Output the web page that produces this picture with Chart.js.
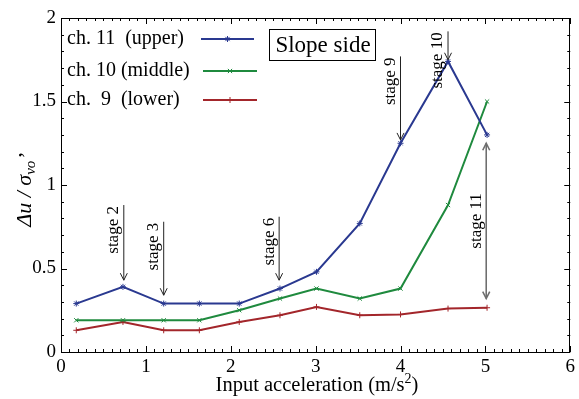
<!DOCTYPE html>
<html>
<head>
<meta charset="utf-8">
<script src="https://cdn.jsdelivr.net/npm/chart.js@4/dist/chart.umd.min.js"></script>
<style>
html,body{margin:0;padding:0;background:#fff;}
#wrap{width:579px;height:399px;}
</style>
</head>
<body>
<div id="wrap"><canvas id="c" width="579" height="399"></canvas></div>
<script>
// ---- data ----
const xUpper  = [0.18, 0.73, 1.21, 1.63, 2.1, 2.58, 3.01, 3.52, 4.0, 4.56, 5.02];
const chUpper = [0.29, 0.39, 0.29, 0.29, 0.29, 0.38, 0.48, 0.77, 1.25, 1.74, 1.30];
const xMiddle = [0.18, 0.73, 1.21, 1.63, 2.1, 2.58, 3.01, 3.52, 4.0, 4.56, 5.02];
const chMiddle= [0.19, 0.19, 0.19, 0.19, 0.25, 0.32, 0.38, 0.32, 0.38, 0.88, 1.50];
const xLower  = [0.18, 0.73, 1.21, 1.63, 2.1, 2.58, 3.01, 3.52, 4.0, 4.56, 5.02];
const chLower = [0.13, 0.18, 0.13, 0.13, 0.18, 0.22, 0.27, 0.22, 0.225, 0.26, 0.265];
const seriesNames = ["ch. 11  (upper)", "ch. 10 (middle)", "ch.  9  (lower)"];
const xTicks = [0, 1, 2, 3, 4, 5, 6];
const yTicks = [0, 0.5, 1, 1.5, 2];
// stage annotations: label, x, arrow from y, arrow to y
const stageLabels = ["stage 2", "stage 3", "stage 6", "stage 9", "stage 10", "stage 11"];
const stageX      = [0.74, 1.21, 2.57, 4.0, 4.56, 5.01];
const stageFrom   = [0.88, 0.78, 0.81, 1.77, 1.92, 1.25];
const stageTo     = [0.43, 0.34, 0.43, 1.27, 1.75, 0.32];

const BLUE = '#2a3990', GREEN = '#1f8a3e', RED = '#a3262b';
const SERIF = '"Liberation Serif", "DejaVu Serif", serif';

function pts(xs, ys){ return xs.map((x,i)=>({x:x, y:ys[i]})); }

function arrowHead(ctx, x, y, dir){ // dir: 1 pointing down, -1 pointing up
  ctx.beginPath();
  ctx.moveTo(x-3.5, y-7*dir);
  ctx.lineTo(x, y);
  ctx.lineTo(x+3.5, y-7*dir);
  ctx.stroke();
}

const deco = {
  id: 'deco',
  afterDatasetsDraw(chart){
    const ctx = chart.ctx, a = chart.chartArea;
    const xs = chart.scales.x, ys = chart.scales.y;
    ctx.save();
    // frame
    ctx.strokeStyle = '#000'; ctx.lineWidth = 1;
    ctx.strokeRect(Math.round(a.left)+0.5, Math.round(a.top)+0.5, Math.round(a.right-a.left)-1, Math.round(a.bottom-a.top));
    // ticks
    ctx.beginPath();
    for (let i=0;i<=60;i++){
      const v = i/10, px = Math.round(xs.getPixelForValue(v))+0.5;
      const L = (i%10===0)?6:3;
      ctx.moveTo(px, a.bottom); ctx.lineTo(px, a.bottom-L);
      ctx.moveTo(px, a.top); ctx.lineTo(px, a.top+L);
    }
    for (let i=0;i<=20;i++){
      const v = i/10, py = Math.round(ys.getPixelForValue(v))+0.5;
      const L = (i%5===0)?6:3;
      ctx.moveTo(a.left, py); ctx.lineTo(a.left+L, py);
      ctx.moveTo(a.right, py); ctx.lineTo(a.right-L, py);
    }
    ctx.stroke();

    // stage annotations
    ctx.font = '17px ' + SERIF;
    ctx.fillStyle = '#000';
    stageLabels.forEach((lab,i)=>{
      const px = xs.getPixelForValue(stageX[i]);
      const y1 = ys.getPixelForValue(stageFrom[i]);
      const y2 = ys.getPixelForValue(stageTo[i]);
      const dbl = (i === stageLabels.length-1);
      ctx.strokeStyle = dbl ? '#6e6e6e' : '#222';
      ctx.lineWidth = dbl ? 1.6 : 1;
      ctx.beginPath(); ctx.moveTo(px, y1); ctx.lineTo(px, y2); ctx.stroke();
      arrowHead(ctx, px, y2, 1);
      if (dbl) arrowHead(ctx, px, y1, -1);
      // text
      ctx.save();
      ctx.textBaseline = 'middle';
      if (dbl){
        ctx.translate(px-10, (y1+y2)/2);
        ctx.rotate(-Math.PI/2);
        ctx.textAlign = 'center';
      } else {
        ctx.translate(px-10, y1+1);
        ctx.rotate(-Math.PI/2);
        ctx.textAlign = 'right';
      }
      ctx.fillText(lab, 0, 0);
      ctx.restore();
    });

    // legend
    const cols = [BLUE, GREEN, RED];
    const styles = ['star','crossRot','cross'];
    const rowsY = [39, 71, 100];
    ctx.font = '20px ' + SERIF;
    ctx.textAlign = 'left'; ctx.textBaseline = 'middle';
    seriesNames.forEach((n,i)=>{
      ctx.fillStyle = '#000';
      ctx.fillText(n, 67, rowsY[i]);
      const x0 = i===0 ? 201 : 203, x1 = i===0 ? 254 : 257;
      ctx.strokeStyle = cols[i]; ctx.lineWidth = 2;
      ctx.beginPath(); ctx.moveTo(x0, rowsY[i]); ctx.lineTo(x1, rowsY[i]); ctx.stroke();
      ctx.lineWidth = 1;
      Chart.helpers.drawPoint(ctx, {pointStyle: styles[i], radius: 3, borderWidth: 1}, (x0+x1)/2, rowsY[i]);
    });

    // Slope side box
    ctx.strokeStyle = '#000'; ctx.lineWidth = 1;
    ctx.strokeRect(269.5, 29.5, 106, 31);
    ctx.fillStyle = '#000';
    ctx.font = '23px ' + SERIF;
    ctx.textAlign = 'center';
    ctx.fillText('Slope side', 323, 46);

    // x title
    ctx.textAlign = 'left'; ctx.textBaseline = 'alphabetic';
    const t1 = 'Input acceleration (m/s', t2 = '2', t3 = ')';
    ctx.font = '20.5px ' + SERIF; const w1 = ctx.measureText(t1).width;
    ctx.font = '14px ' + SERIF; const w2 = ctx.measureText(t2).width;
    ctx.font = '20.5px ' + SERIF; const w3 = ctx.measureText(t3).width;
    let sx = 317 - (w1+w2+w3)/2;
    const by = 391;
    ctx.fillText(t1, sx, by); sx += w1;
    ctx.font = '14px ' + SERIF; ctx.fillText(t2, sx, by-8); sx += w2;
    ctx.font = '20.5px ' + SERIF; ctx.fillText(t3, sx, by);

    // y title (rotated)
    ctx.save();
    ctx.translate(31, 190);
    ctx.rotate(-Math.PI/2);
    const parts = [
      {t:'\u0394u / \u03C3', f:'italic 22px '+SERIF, dy:0},
      {t:'vo', f:'italic 15px '+SERIF, dy:4},
      {t:'\u2019', f:'22px '+SERIF, dy:2}
    ];
    let tw = 0;
    parts.forEach(p=>{ ctx.font=p.f; p.w = ctx.measureText(p.t).width; tw += p.w; });
    let cx = -tw/2;
    parts.forEach((p,k)=>{ ctx.font=p.f; ctx.fillText(p.t, cx + (k===2?2:0), p.dy); cx += p.w; });
    ctx.restore();

    ctx.restore();
  }
};

new Chart(document.getElementById('c'), {
  type: 'line',
  data: {
    datasets: [
      {label: seriesNames[0], data: pts(xUpper, chUpper), borderColor: BLUE, backgroundColor: BLUE, pointStyle: 'star', pointRadius: 3, pointBorderWidth: 1, borderWidth: 2, tension: 0},
      {label: seriesNames[1], data: pts(xMiddle, chMiddle), borderColor: GREEN, backgroundColor: GREEN, pointStyle: 'crossRot', pointRadius: 3, pointBorderWidth: 1, borderWidth: 2, tension: 0},
      {label: seriesNames[2], data: pts(xLower, chLower), borderColor: RED, backgroundColor: RED, pointStyle: 'cross', pointRadius: 3, pointBorderWidth: 1, borderWidth: 2, tension: 0}
    ]
  },
  options: {
    responsive: false,
    animation: false,
    events: [],
    layout: {padding: {top: 18, right: 7, left: 0, bottom: 0}},
    plugins: {legend: {display: false}, tooltip: {enabled: false}},
    scales: {
      x: {
        type: 'linear', min: 0, max: 6,
        afterBuildTicks: s => { s.ticks = xTicks.map(v=>({value:v})); },
        afterFit: s => { s.height = 47; },
        grid: {display: false, drawTicks: false},
        border: {display: false},
        ticks: {color: '#000', font: {family: SERIF, size: 19}, padding: 4, maxRotation: 0}
      },
      y: {
        type: 'linear', min: 0, max: 2,
        afterBuildTicks: s => { s.ticks = yTicks.map(v=>({value:v})); },
        afterFit: s => { s.width = 61; },
        grid: {display: false, drawTicks: false},
        border: {display: false},
        ticks: {color: '#000', font: {family: SERIF, size: 19}, padding: 5, callback: v => String(v)}
      }
    }
  },
  plugins: [deco]
});
</script>
</body>
</html>
